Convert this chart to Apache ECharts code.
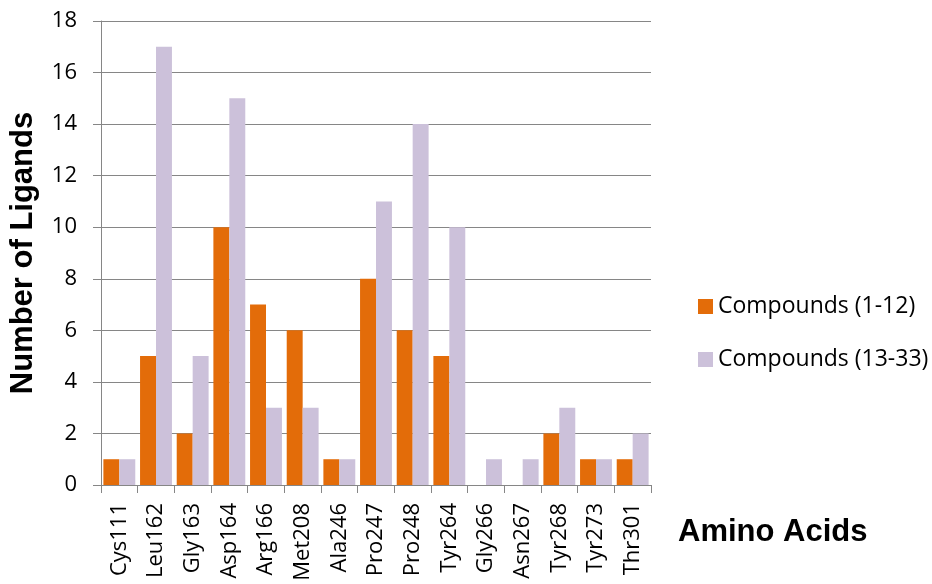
<!DOCTYPE html>
<html>
<head>
<meta charset="utf-8">
<script src="https://cdn.jsdelivr.net/npm/echarts@6/dist/echarts.min.js"></script>
<style>
  html, body { margin: 0; padding: 0; background: #fff; }
  #chart { width: 932px; height: 584px; }
</style>
</head>
<body>
<div id="chart"></div>
<script>
"use strict";

var aminoAcids = ["Cys111", "Leu162", "Gly163", "Asp164", "Arg166", "Met208", "Ala246",
  "Pro247", "Pro248", "Tyr264", "Gly266", "Asn267", "Tyr268", "Tyr273", "Thr301"];
var compounds1to12 = [1, 5, 2, 10, 7, 6, 1, 8, 6, 5, 0, 0, 2, 1, 1];
var compounds13to33 = [1, 17, 5, 15, 3, 3, 1, 11, 14, 10, 1, 1, 3, 1, 2];
var yTicks = [0, 2, 4, 6, 8, 10, 12, 14, 16, 18];

var chart = echarts.init(document.getElementById("chart"));

var gridColor = "#868686";

var option = {
  backgroundColor: "#fff",
  animation: false,
  grid: { left: 101, right: 281, top: 21, bottom: 99, outerBoundsMode: "none", containLabel: false },
  legend: {
    orient: "vertical",
    left: 693,
    top: 290,
    itemWidth: 15,
    itemHeight: 15,
    itemGap: 30,
    icon: "rect",
    textStyle: { fontFamily: "Open Sans", fontSize: 23, lineHeight: 23, color: "#000" },
    data: ["Compounds (1-12)", "Compounds (13-33)"]
  },
  xAxis: {
    type: "category",
    data: aminoAcids,
    axisLine: { lineStyle: { color: gridColor, width: 1 } },
    axisTick: { show: true, length: 8, alignWithLabel: false, lineStyle: { color: gridColor } },
    axisLabel: {
      rotate: 90,
      interval: 0,
      margin: 18,
      fontFamily: "Open Sans",
      fontSize: 22,
      color: "#000"
    }
  },
  yAxis: {
    type: "value",
    min: 0,
    max: 18,
    interval: 2,
    name: "Number of Ligands",
    nameLocation: "middle",
    nameGap: 62,
    nameTextStyle: { fontFamily: "Liberation Sans", fontWeight: "bold", fontSize: 31, color: "#000" },
    axisLine: { show: true, lineStyle: { color: gridColor, width: 1 } },
    axisTick: { show: true, length: 8, lineStyle: { color: gridColor } },
    splitLine: { lineStyle: { color: gridColor, width: 1 } },
    axisLabel: {
      margin: 24,
      fontFamily: "Open Sans",
      fontSize: 22,
      color: "#000",
      formatter: function (v) {
        return yTicks.indexOf(v) > -1 ? String(v) : "";
      }
    }
  },
  graphic: [{
    type: "text",
    left: 678,
    top: 517,
    style: {
      text: "Amino Acids",
      fontFamily: "Liberation Sans",
      fontWeight: "bold",
      fontSize: 31,
      fill: "#000"
    }
  }],
  series: [{
    name: "Compounds (1-12)",
    type: "bar",
    data: compounds1to12,
    barGap: "0%",
    barCategoryGap: "13%",
    itemStyle: { color: "#E36C09" }
  }, {
    name: "Compounds (13-33)",
    type: "bar",
    data: compounds13to33,
    barGap: "0%",
    barCategoryGap: "13%",
    itemStyle: { color: "#CCC1DA" }
  }]
};

chart.setOption(option);
</script>
</body>
</html>
